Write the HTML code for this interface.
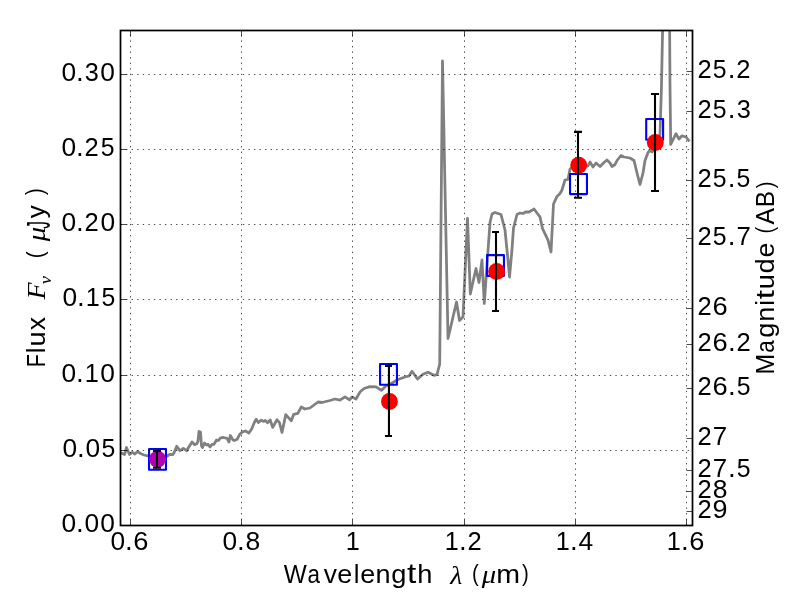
<!DOCTYPE html><html><head><meta charset="utf-8"><style>html,body{margin:0;padding:0;background:#fff;}svg{display:block;will-change:transform;}</style></head><body>
<svg width="800" height="600" viewBox="0 0 800 600">
<rect x="0" y="0" width="800" height="600" fill="#fff"/>
<defs><clipPath id="ax"><rect x="120.50" y="30.50" width="572.00" height="495.00"/></clipPath></defs>
<g clip-path="url(#ax)">
<path d="M120.00 452.50 L124.50 454.50 L126.50 447.50 L129.50 454.50 L132.50 452.30 L135.00 454.00 L137.50 451.50 L140.50 453.50 L144.00 455.00 L148.00 455.80 L157.00 456.20 L167.30 456.00 L170.00 454.30 L172.70 454.70 L174.30 452.30 L176.70 446.30 L180.00 450.70 L183.30 448.30 L186.70 450.70 L189.30 446.30 L192.00 442.00 L194.70 444.70 L197.00 443.50 L198.00 441.00 L199.00 431.50 L200.50 432.00 L201.50 446.00 L202.50 447.50 L204.50 443.00 L206.50 445.00 L208.00 444.30 L210.00 447.00 L212.00 444.30 L214.00 444.30 L216.50 440.00 L218.50 440.50 L220.50 437.80 L223.50 437.50 L227.00 438.30 L229.00 442.00 L230.30 435.50 L233.00 440.00 L234.30 440.60 L237.30 439.20 L239.60 434.50 L242.50 431.90 L245.40 431.00 L248.90 433.00 L251.80 428.70 L254.20 422.80 L256.20 419.30 L258.30 422.50 L261.20 420.20 L263.80 421.40 L265.30 420.50 L267.60 422.80 L270.20 420.00 L272.70 427.40 L277.00 419.80 L279.40 422.50 L282.00 432.40 L285.80 414.60 L291.30 420.70 L293.70 414.30 L297.80 413.40 L301.30 407.00 L304.80 409.00 L310.00 408.00 L318.00 402.00 L322.00 402.50 L330.00 400.50 L335.00 399.00 L340.00 400.20 L345.00 396.80 L349.50 399.80 L352.00 397.00 L356.00 399.00 L360.00 392.00 L364.00 388.50 L370.00 386.60 L376.00 386.80 L381.50 390.30 L386.00 386.00 L392.00 383.00 L398.00 379.50 L405.00 377.00 L409.00 376.00 L412.00 371.30 L417.50 379.00 L423.00 374.30 L428.00 372.30 L434.00 375.30 L437.00 374.70 L439.70 364.00 L442.50 61.00 L448.00 338.50 L456.50 302.00 L459.50 320.50 L463.00 317.00 L467.50 218.30 L470.30 294.00 L476.00 268.50 L479.00 282.50 L482.00 260.00 L484.30 303.50 L490.00 222.50 L492.00 214.00 L495.00 212.50 L501.00 214.50 L505.00 230.00 L508.00 260.00 L509.50 277.00 L512.00 249.50 L513.50 228.00 L517.00 214.50 L520.00 213.00 L523.00 213.50 L526.00 211.80 L529.00 212.00 L532.00 210.30 L534.00 209.00 L537.00 213.00 L540.00 216.80 L542.50 228.50 L548.00 240.20 L551.00 252.00 L553.50 204.00 L557.00 196.40 L560.00 193.50 L562.00 190.00 L565.00 180.00 L568.00 179.50 L570.00 169.00 L575.00 166.00 L588.00 166.00 L590.00 162.00 L593.00 167.00 L596.00 163.00 L600.00 166.50 L604.00 162.50 L607.00 160.00 L610.00 163.00 L612.00 166.50 L615.00 164.50 L617.00 160.50 L621.00 155.50 L624.00 157.00 L630.00 158.00 L634.00 160.50 L637.00 173.00 L640.00 184.50 L643.00 173.00 L645.00 160.50 L648.00 152.50 L650.00 150.50 L652.00 152.00 L656.00 146.00 L660.00 134.70 L661.50 85.00 L663.00 10.00 L669.50 10.00 L670.00 85.00 L670.70 144.50 L676.00 133.70 L679.00 139.00 L682.00 135.80 L686.00 137.00 L689.50 141.50" fill="none" stroke="#808080" stroke-width="2.78" stroke-linejoin="round" stroke-linecap="butt"/>
<rect x="149.05" y="449.00" width="16.9" height="20.70" fill="none" stroke="#0000ff" stroke-width="2.1" stroke-linejoin="round"/>
<rect x="380.05" y="364.05" width="16.9" height="20.70" fill="none" stroke="#0000ff" stroke-width="2.1" stroke-linejoin="round"/>
<rect x="487.05" y="255.15" width="16.9" height="20.70" fill="none" stroke="#0000ff" stroke-width="2.1" stroke-linejoin="round"/>
<rect x="570.05" y="174.00" width="16.9" height="20.10" fill="none" stroke="#0000ff" stroke-width="2.1" stroke-linejoin="round"/>
<rect x="646.20" y="119.00" width="16.9" height="20.70" fill="none" stroke="#0000ff" stroke-width="2.1" stroke-linejoin="round"/>
</g>
<path d="M130.50 525.50 V30.50 M241.50 525.50 V30.50 M352.50 525.50 V30.50 M464.50 525.50 V30.50 M575.50 525.50 V30.50 M686.50 525.50 V30.50 M120.50 450.50 H692.50 M120.50 375.50 H692.50 M120.50 299.50 H692.50 M120.50 224.50 H692.50 M120.50 149.50 H692.50 M120.50 74.50 H692.50" stroke="#000" stroke-width="0.7" stroke-dasharray="1.39 4.17" fill="none"/>
<g clip-path="url(#ax)">
<circle cx="157.50" cy="459.20" r="8.45" fill="#b300b3"/>
<circle cx="389.45" cy="401.45" r="8.45" fill="#ff0000"/>
<circle cx="496.60" cy="271.40" r="8.45" fill="#ff0000"/>
<circle cx="578.70" cy="165.20" r="8.45" fill="#ff0000"/>
<circle cx="655.30" cy="142.50" r="8.45" fill="#ff0000"/>
<path d="M157.00 450.90 V467.80 M153.00 450.90 H161.00 M153.00 467.80 H161.00" stroke="#000" stroke-width="2.1" fill="none"/>
<path d="M388.95 365.90 V436.00 M385.00 365.90 H392.00 M385.00 436.00 H392.00" stroke="#000" stroke-width="2.1" fill="none"/>
<path d="M496.00 232.00 V311.00 M492.00 232.00 H499.00 M492.00 311.00 H499.00" stroke="#000" stroke-width="2.1" fill="none"/>
<path d="M578.00 131.90 V197.70 M574.00 131.90 H582.00 M574.00 197.70 H582.00" stroke="#000" stroke-width="2.1" fill="none"/>
<path d="M655.00 94.00 V191.00 M651.00 94.00 H659.00 M651.00 191.00 H659.00" stroke="#000" stroke-width="2.1" fill="none"/>
</g>
<path d="M130.50 525.50 V519.50 M130.50 30.50 V36.50 M241.50 525.50 V519.50 M241.50 30.50 V36.50 M352.50 525.50 V519.50 M352.50 30.50 V36.50 M464.50 525.50 V519.50 M464.50 30.50 V36.50 M575.50 525.50 V519.50 M575.50 30.50 V36.50 M686.50 525.50 V519.50 M686.50 30.50 V36.50 M120.50 525.50 H126.50 M120.50 450.50 H126.50 M120.50 375.50 H126.50 M120.50 299.50 H126.50 M120.50 224.50 H126.50 M120.50 149.50 H126.50 M120.50 74.50 H126.50 M692.50 71.50 H686.50 M692.50 111.50 H686.50 M692.50 180.50 H686.50 M692.50 238.50 H686.50 M692.50 308.50 H686.50 M692.50 344.50 H686.50 M692.50 388.50 H686.50 M692.50 438.50 H686.50 M692.50 470.50 H686.50 M692.50 491.50 H686.50 M692.50 511.50 H686.50" stroke="#000" stroke-width="0.7" fill="none"/>
<rect x="120.50" y="30.50" width="572.00" height="495.00" fill="none" stroke="#000" stroke-width="1.72"/>
<g fill="#000"><text transform="matrix(1.0530 0 0 1.0103 110.619 549.707)" font-family="Liberation Sans" font-size="25">0</text>
<text transform="matrix(1.1085 0 0 1.1201 124.965 550.000)" font-family="Liberation Sans" font-size="25">.</text>
<text transform="matrix(1.0903 0 0 1.0113 133.257 549.727)" font-family="Liberation Sans" font-size="25">6</text>
<text transform="matrix(1.0530 0 0 1.0103 222.619 549.707)" font-family="Liberation Sans" font-size="25">0</text>
<text transform="matrix(1.1085 0 0 1.1201 236.965 550.000)" font-family="Liberation Sans" font-size="25">.</text>
<text transform="matrix(1.0604 0 0 1.0118 245.508 549.727)" font-family="Liberation Sans" font-size="25">8</text>
<text transform="matrix(1.0100 0 0 1.0435 345.824 550.000)" font-family="Liberation Sans" font-size="25">1</text>
<text transform="matrix(1.0100 0 0 1.0435 444.824 550.000)" font-family="Liberation Sans" font-size="25">1</text>
<text transform="matrix(1.1085 0 0 1.1201 458.965 550.000)" font-family="Liberation Sans" font-size="25">.</text>
<text transform="matrix(1.0215 0 0 1.0269 467.463 550.000)" font-family="Liberation Sans" font-size="25">2</text>
<text transform="matrix(1.0100 0 0 1.0435 555.824 550.000)" font-family="Liberation Sans" font-size="25">1</text>
<text transform="matrix(1.1085 0 0 1.1201 569.965 550.000)" font-family="Liberation Sans" font-size="25">.</text>
<text transform="matrix(1.0580 0 0 1.0438 578.508 550.133)" font-family="Liberation Sans" font-size="25">4</text>
<text transform="matrix(1.0100 0 0 1.0435 666.824 550.000)" font-family="Liberation Sans" font-size="25">1</text>
<text transform="matrix(1.1085 0 0 1.1201 680.965 550.000)" font-family="Liberation Sans" font-size="25">.</text>
<text transform="matrix(1.0903 0 0 1.0113 689.257 549.727)" font-family="Liberation Sans" font-size="25">6</text>
<text transform="matrix(1.0530 0 0 1.0103 61.619 531.707)" font-family="Liberation Sans" font-size="25">0</text>
<text transform="matrix(1.1085 0 0 1.1201 75.965 532.000)" font-family="Liberation Sans" font-size="25">.</text>
<text transform="matrix(1.0538 0 0 1.0114 84.488 531.717)" font-family="Liberation Sans" font-size="25">0</text>
<text transform="matrix(1.0538 0 0 1.0114 100.368 531.717)" font-family="Liberation Sans" font-size="25">0</text>
<text transform="matrix(1.0530 0 0 1.0103 62.619 456.707)" font-family="Liberation Sans" font-size="25">0</text>
<text transform="matrix(1.1085 0 0 1.1201 76.965 457.000)" font-family="Liberation Sans" font-size="25">.</text>
<text transform="matrix(1.0538 0 0 1.0114 85.488 456.717)" font-family="Liberation Sans" font-size="25">0</text>
<text transform="matrix(0.9947 0 0 1.0274 101.551 456.723)" font-family="Liberation Sans" font-size="25">5</text>
<text transform="matrix(1.0530 0 0 1.0103 61.619 381.707)" font-family="Liberation Sans" font-size="25">0</text>
<text transform="matrix(1.1085 0 0 1.1201 75.965 382.000)" font-family="Liberation Sans" font-size="25">.</text>
<text transform="matrix(1.0100 0 0 1.0435 84.694 382.000)" font-family="Liberation Sans" font-size="25">1</text>
<text transform="matrix(1.0538 0 0 1.0114 100.368 381.717)" font-family="Liberation Sans" font-size="25">0</text>
<text transform="matrix(1.0530 0 0 1.0103 62.619 305.707)" font-family="Liberation Sans" font-size="25">0</text>
<text transform="matrix(1.1085 0 0 1.1201 76.965 306.000)" font-family="Liberation Sans" font-size="25">.</text>
<text transform="matrix(1.0100 0 0 1.0435 85.694 306.000)" font-family="Liberation Sans" font-size="25">1</text>
<text transform="matrix(0.9947 0 0 1.0274 101.551 305.723)" font-family="Liberation Sans" font-size="25">5</text>
<text transform="matrix(1.0530 0 0 1.0103 61.619 230.707)" font-family="Liberation Sans" font-size="25">0</text>
<text transform="matrix(1.1085 0 0 1.1201 75.965 231.000)" font-family="Liberation Sans" font-size="25">.</text>
<text transform="matrix(1.0215 0 0 1.0269 84.463 231.000)" font-family="Liberation Sans" font-size="25">2</text>
<text transform="matrix(1.0538 0 0 1.0114 100.488 230.717)" font-family="Liberation Sans" font-size="25">0</text>
<text transform="matrix(1.0530 0 0 1.0103 61.619 155.707)" font-family="Liberation Sans" font-size="25">0</text>
<text transform="matrix(1.1085 0 0 1.1201 75.965 156.000)" font-family="Liberation Sans" font-size="25">.</text>
<text transform="matrix(1.0215 0 0 1.0269 84.463 156.000)" font-family="Liberation Sans" font-size="25">2</text>
<text transform="matrix(0.9938 0 0 1.0274 100.682 155.723)" font-family="Liberation Sans" font-size="25">5</text>
<text transform="matrix(1.0530 0 0 1.0103 61.619 80.707)" font-family="Liberation Sans" font-size="25">0</text>
<text transform="matrix(1.1085 0 0 1.1201 75.965 81.000)" font-family="Liberation Sans" font-size="25">.</text>
<text transform="matrix(1.0125 0 0 1.0118 84.757 80.727)" font-family="Liberation Sans" font-size="25">3</text>
<text transform="matrix(1.0538 0 0 1.0114 100.368 80.717)" font-family="Liberation Sans" font-size="25">0</text>
<text transform="matrix(1.0215 0 0 1.0274 697.583 78.000)" font-family="Liberation Sans" font-size="25">2</text>
<text transform="matrix(0.9947 0 0 1.0274 712.801 77.723)" font-family="Liberation Sans" font-size="25">5</text>
<text transform="matrix(1.1085 0 0 1.1201 727.835 78.000)" font-family="Liberation Sans" font-size="25">.</text>
<text transform="matrix(1.0215 0 0 1.0274 736.333 78.000)" font-family="Liberation Sans" font-size="25">2</text>
<text transform="matrix(1.0215 0 0 1.0274 697.583 118.000)" font-family="Liberation Sans" font-size="25">2</text>
<text transform="matrix(0.9947 0 0 1.0274 712.801 117.723)" font-family="Liberation Sans" font-size="25">5</text>
<text transform="matrix(1.1085 0 0 1.1201 727.835 118.000)" font-family="Liberation Sans" font-size="25">.</text>
<text transform="matrix(1.0133 0 0 1.0124 736.627 117.737)" font-family="Liberation Sans" font-size="25">3</text>
<text transform="matrix(1.0215 0 0 1.0274 697.583 187.000)" font-family="Liberation Sans" font-size="25">2</text>
<text transform="matrix(0.9947 0 0 1.0274 712.801 186.723)" font-family="Liberation Sans" font-size="25">5</text>
<text transform="matrix(1.1085 0 0 1.1201 727.835 187.000)" font-family="Liberation Sans" font-size="25">.</text>
<text transform="matrix(0.9947 0 0 1.0274 736.551 186.723)" font-family="Liberation Sans" font-size="25">5</text>
<text transform="matrix(1.0215 0 0 1.0274 697.583 245.000)" font-family="Liberation Sans" font-size="25">2</text>
<text transform="matrix(0.9947 0 0 1.0274 712.801 244.723)" font-family="Liberation Sans" font-size="25">5</text>
<text transform="matrix(1.1085 0 0 1.1201 727.835 245.000)" font-family="Liberation Sans" font-size="25">.</text>
<text transform="matrix(1.0344 0 0 1.0438 736.419 245.133)" font-family="Liberation Sans" font-size="25">7</text>
<text transform="matrix(1.0215 0 0 1.0274 697.583 315.000)" font-family="Liberation Sans" font-size="25">2</text>
<text transform="matrix(1.0912 0 0 1.0118 712.376 314.727)" font-family="Liberation Sans" font-size="25">6</text>
<text transform="matrix(1.0215 0 0 1.0274 697.583 351.000)" font-family="Liberation Sans" font-size="25">2</text>
<text transform="matrix(1.0912 0 0 1.0118 712.376 350.727)" font-family="Liberation Sans" font-size="25">6</text>
<text transform="matrix(1.1085 0 0 1.1201 728.085 351.000)" font-family="Liberation Sans" font-size="25">.</text>
<text transform="matrix(1.0215 0 0 1.0274 736.583 351.000)" font-family="Liberation Sans" font-size="25">2</text>
<text transform="matrix(1.0215 0 0 1.0274 697.583 395.000)" font-family="Liberation Sans" font-size="25">2</text>
<text transform="matrix(1.0912 0 0 1.0118 712.376 394.727)" font-family="Liberation Sans" font-size="25">6</text>
<text transform="matrix(1.1085 0 0 1.1201 728.085 395.000)" font-family="Liberation Sans" font-size="25">.</text>
<text transform="matrix(0.9947 0 0 1.0274 736.801 394.723)" font-family="Liberation Sans" font-size="25">5</text>
<text transform="matrix(1.0215 0 0 1.0274 697.583 445.000)" font-family="Liberation Sans" font-size="25">2</text>
<text transform="matrix(1.0344 0 0 1.0438 712.669 445.133)" font-family="Liberation Sans" font-size="25">7</text>
<text transform="matrix(1.0215 0 0 1.0274 697.583 477.000)" font-family="Liberation Sans" font-size="25">2</text>
<text transform="matrix(1.0344 0 0 1.0438 712.669 477.133)" font-family="Liberation Sans" font-size="25">7</text>
<text transform="matrix(1.1085 0 0 1.1201 727.965 477.000)" font-family="Liberation Sans" font-size="25">.</text>
<text transform="matrix(0.9938 0 0 1.0274 736.682 476.723)" font-family="Liberation Sans" font-size="25">5</text>
<text transform="matrix(1.0215 0 0 1.0274 697.583 498.000)" font-family="Liberation Sans" font-size="25">2</text>
<text transform="matrix(1.0604 0 0 1.0113 712.638 497.727)" font-family="Liberation Sans" font-size="25">8</text>
<text transform="matrix(1.0215 0 0 1.0274 697.583 518.000)" font-family="Liberation Sans" font-size="25">2</text>
<text transform="matrix(1.0793 0 0 1.0118 712.385 517.727)" font-family="Liberation Sans" font-size="25">9</text>
<text transform="matrix(0.9761 0 0 1.0435 283.865 583.000)" font-family="Liberation Sans" font-size="25">W</text>
<text transform="matrix(0.8953 0 0 1.0169 307.556 582.758)" font-family="Liberation Sans" font-size="25">a</text>
<text transform="matrix(1.0587 0 0 1.0566 323.769 583.000)" font-family="Liberation Sans" font-size="25">v</text>
<text transform="matrix(1.0750 0 0 1.0154 337.247 582.736)" font-family="Liberation Sans" font-size="25">e</text>
<text transform="matrix(1.0300 0 0 1.0485 353.634 583.135)" font-family="Liberation Sans" font-size="25">l</text>
<text transform="matrix(1.0750 0 0 1.0154 360.247 582.736)" font-family="Liberation Sans" font-size="25">e</text>
<text transform="matrix(1.0839 0 0 1.0370 375.438 583.000)" font-family="Liberation Sans" font-size="25">n</text>
<text transform="matrix(1.0907 0 0 1.0199 391.245 582.626)" font-family="Liberation Sans" font-size="25">g</text>
<text transform="matrix(1.3338 0 0 1.0689 407.111 582.733)" font-family="Liberation Sans" font-size="25">t</text>
<text transform="matrix(1.0904 0 0 1.0484 417.359 583.134)" font-family="Liberation Sans" font-size="25">h</text>
<text transform="matrix(1.1131 0 0 1.0097 450.170 583.870)" font-family="Liberation Serif" font-style="italic" font-size="25">λ</text>
<text transform="matrix(0.8162 0 0 0.9574 471.878 581.473)" font-family="Liberation Sans" font-size="25">(</text>
<text transform="matrix(1.1491 0 0 0.9755 481.845 582.799)" font-family="Liberation Serif" font-style="italic" font-size="25">μ</text>
<text transform="matrix(1.1429 0 0 1.0370 496.340 583.000)" font-family="Liberation Sans" font-size="25">m</text>
<text transform="matrix(0.8132 0 0 0.9574 522.097 581.473)" font-family="Liberation Sans" font-size="25">)</text>
<text transform="matrix(0 -0.8117 0.9570 0 43.366 195.053)" font-family="Liberation Sans" font-size="25">)</text>
<text transform="matrix(0 -1.0434 1.0265 0 44.501 218.230)" font-family="Liberation Sans" font-size="25">y</text>
<text transform="matrix(0 -0.6106 1.3137 0 49.562 228.658)" font-family="Liberation Sans" font-size="25">J</text>
<text transform="matrix(0 -1.1483 0.9743 0 44.695 241.305)" font-family="Liberation Serif" font-style="italic" font-size="25">μ</text>
<text transform="matrix(0 -0.8147 0.9570 0 43.366 258.269)" font-family="Liberation Sans" font-size="25">(</text>
<text transform="matrix(0 -0.7412 0.6281 0 50.593 284.133)" font-family="Liberation Serif" font-style="italic" font-size="25">ν</text>
<text transform="matrix(0 -1.1210 1.0377 0 44.863 299.532)" font-family="Liberation Serif" font-style="italic" font-size="25">F</text>
<text transform="matrix(0 -1.0604 1.0558 0 44.990 330.153)" font-family="Liberation Sans" font-size="25">x</text>
<text transform="matrix(0 -1.0853 1.0363 0 44.731 346.546)" font-family="Liberation Sans" font-size="25">u</text>
<text transform="matrix(0 -1.0255 1.0479 0 45.125 353.258)" font-family="Liberation Sans" font-size="25">l</text>
<text transform="matrix(0 -0.8597 1.0429 0 44.990 367.167)" font-family="Liberation Sans" font-size="25">F</text>
<text transform="matrix(0 -0.8132 0.9562 0 772.670 188.293)" font-family="Liberation Sans" font-size="25">)</text>
<text transform="matrix(0 -0.9752 1.0429 0 774.190 207.125)" font-family="Liberation Sans" font-size="25">B</text>
<text transform="matrix(0 -0.9874 1.0429 0 774.190 224.455)" font-family="Liberation Sans" font-size="25">A</text>
<text transform="matrix(0 -0.8070 0.9545 0 772.679 233.607)" font-family="Liberation Sans" font-size="25">(</text>
<text transform="matrix(0 -1.0742 1.0154 0 773.926 257.622)" font-family="Liberation Sans" font-size="25">e</text>
<text transform="matrix(0 -1.0887 1.0305 0 774.007 273.494)" font-family="Liberation Sans" font-size="25">d</text>
<text transform="matrix(0 -1.0844 1.0363 0 773.931 289.265)" font-family="Liberation Sans" font-size="25">u</text>
<text transform="matrix(0 -1.3322 1.0683 0 773.923 299.258)" font-family="Liberation Sans" font-size="25">t</text>
<text transform="matrix(0 -1.0200 1.0411 0 774.200 305.706)" font-family="Liberation Sans" font-size="25">i</text>
<text transform="matrix(0 -1.0830 1.0370 0 774.200 321.810)" font-family="Liberation Sans" font-size="25">n</text>
<text transform="matrix(0 -1.0889 1.0194 0 773.818 337.873)" font-family="Liberation Sans" font-size="25">g</text>
<text transform="matrix(0 -0.8945 1.0154 0 773.948 352.813)" font-family="Liberation Sans" font-size="25">a</text>
<text transform="matrix(0 -0.9942 1.0429 0 774.190 374.544)" font-family="Liberation Sans" font-size="25">M</text></g>
</svg></body></html>
